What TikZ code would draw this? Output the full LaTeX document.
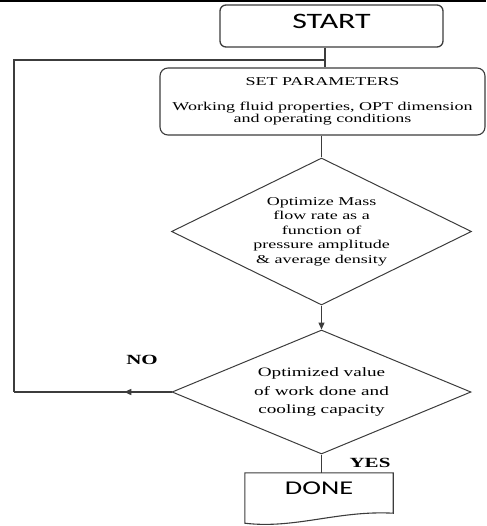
\documentclass[tikz,border=0pt]{standalone}
\usepackage{fontspec}
\usetikzlibrary{shapes.geometric}
\usetikzlibrary{arrows.meta}
\usetikzlibrary{decorations.markings}
\newfontfamily\boxfont[FakeStretch=1.5]{Liberation Serif}
\newfontfamily\termfont[FakeStretch=1.45]{Carlito}
\definecolor{edgegray}{RGB}{60,60,60}

\begin{document}
\begin{tikzpicture}[x=1pt, y=-1pt]
            \tikzstyle{terminal} = [draw=edgegray, line width=1.3pt, rounded corners=6pt, inner sep=0pt, font=\termfont\fontsize{22}{24}\selectfont]
            \tikzstyle{process} = [draw=edgegray, line width=1.1pt, rounded corners=8pt, inner sep=0pt, align=center, font=\boxfont\fontsize{12}{12.5}\selectfont]
            \tikzstyle{decision} = [draw=edgegray, line width=1pt, diamond, inner sep=0pt, align=center]
            \tikzstyle{flow} = [draw=edgegray, line width=1.3pt]
            \tikzstyle{midarrow} = [flow, postaction={decorate}, decoration={markings, mark=at position 0.3 with {\arrow{Triangle[length=7pt, width=6pt]}}}]
            \tikzstyle{answer} = [font=\boxfont\bfseries\fontsize{14}{14}\selectfont]
            \useasboundingbox (0, 0) rectangle (486, 526);
            \draw[line width=1.6pt] (0, 0.8) -- (486, 0.8);
            \node[terminal, minimum width=223pt, minimum height=42pt, text depth=10pt] (start) at (331.5, 26) {START};
            \node[process, minimum width=325pt, minimum height=67pt] (setpar) at (322.5, 101.5) {SET PARAMETERS\\[12.5pt]Working fluid properties, OPT dimension\\and operating conditions};
            \node[decision, aspect=2, minimum width=300pt, minimum height=147pt, font=\boxfont\fontsize{12}{14.5}\selectfont] (massflow) at (321.5, 231.5) {Optimize Mass\\flow rate as a\\function of\\pressure amplitude\\\& average density};
            \node[decision, aspect=2.4, minimum width=299pt, minimum height=124pt, font=\boxfont\fontsize{12.8}{18.5}\selectfont] (check) at (321.5, 392) {Optimized value\\of work done and\\cooling capacity};
            \node[inner sep=0pt, minimum width=148pt, minimum height=40pt, text depth=9pt, font=\termfont\fontsize{19.5}{20}\selectfont] (done) at (319, 493) {DONE};
            \draw[flow, line width=1.1pt] (done.north west) -- (done.north east) -- (done.south east)
                .. controls ([xshift=-55pt, yshift=3pt]done.south east) and ([xshift=50pt, yshift=-16pt]done.south west) .. ([yshift=-10pt]done.south west) -- cycle;
            \coordinate (join) at (325, 60);
            \coordinate (loopbottom) at (14, 392);
            \coordinate (looptop) at (14, 60);
            \draw[flow] (join |- start.south) -- (join |- setpar.north);
            \draw[flow] (setpar.south -| massflow.north) -- (massflow.north);
            \draw[flow, -{Triangle[length=7pt, width=6pt]}] (massflow.south) -- (check.north);
            \draw[midarrow] (check.west) -- (loopbottom);
            \draw[flow] (loopbottom) -- (looptop) -- (join);
            \draw[flow] (check.south) -- (check.south |- done.north);
            \node[answer] (no) at (142, 360) {NO};
            \node[answer] (yes) at (370, 463) {YES};
        \end{tikzpicture}
\end{document}
